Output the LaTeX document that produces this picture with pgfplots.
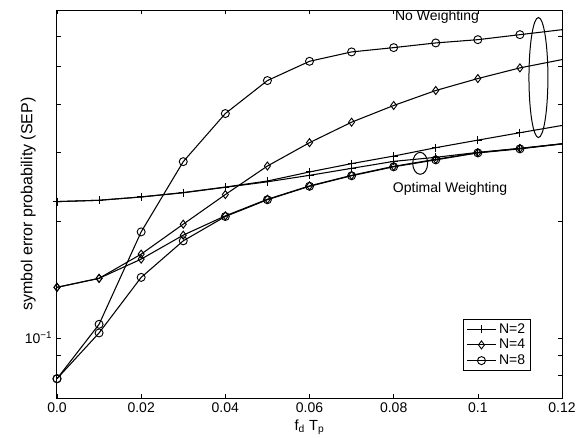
\documentclass[border=0pt]{standalone}
\usepackage{pgfplots}
\pgfplotsset{compat=1.18}
\usepackage{fontspec}
\setmainfont{Liberation Sans}
\begin{document}
\begin{tikzpicture}
\useasboundingbox (-42.75pt,-29.25pt) rectangle (390.75pt,298.5pt);
\begin{axis}[
  scale only axis, width=378.75pt, height=291pt,
  ymode=log, xmin=0, xmax=0.12, ymin=0.07, ymax=0.7,
  xtick={0,0.02,0.04,0.06,0.08,0.1,0.12},
  xticklabels={{0.0},{0.02},{0.04},{0.06},{0.08},{0.1},{0.12}},
  ytick={0.1}, yticklabels={10\textsuperscript{−1}},
  minor ytick={0.07,0.08,0.09,0.2,0.3,0.4,0.5,0.6,0.7},
  tick align=inside, major tick length=3pt, minor tick length=3pt,
  axis line style={line width=0.75pt},
  every tick/.style={black, line width=0.5pt},
  tick label style={font=\fontsize{10.5}{12}\selectfont},
  xlabel={f\textsubscript{d} T\textsubscript{p}},
  ylabel={symbol error probability (SEP)},
  xlabel style={font=\fontsize{11}{13}\selectfont, yshift=1.5pt},
  ylabel style={font=\fontsize{12}{14}\selectfont, yshift=-15pt},
  legend style={at={(0.9386,0.0696)}, anchor=south east, font=\fontsize{10.5}{12}\selectfont,
    draw=black, line width=0.75pt, inner xsep=2pt, inner ysep=1pt, row sep=-1pt},
  legend cell align=left,
  legend image code/.code={\draw[mark indices={2},#1] plot coordinates {(0cm,0cm) (0.38cm,0cm) (0.76cm,0cm)};},
  every axis plot/.append style={black, line width=0.8pt, mark options={solid, line width=0.7pt}},
]
% No weighting
\addplot[mark=+, mark size=3pt, mark indices={1,2,3,4,5,6,7,8,9,10,11,12}] coordinates {
(0,0.2245) (0.01,0.2263) (0.02,0.2308) (0.03,0.2369) (0.04,0.2448) (0.05,0.2537) (0.06,0.2677) (0.07,0.2813) (0.08,0.2942) (0.09,0.3092) (0.10,0.3234) (0.11,0.3379) (0.12,0.3528)};
\addlegendentry{N=2}
\addplot[mark=diamond, mark size=3pt, mark indices={1,2,3,4,5,6,7,8,9,10,11,12}] coordinates {
(0,0.1350) (0.01,0.1424) (0.02,0.1644) (0.03,0.1964) (0.04,0.2341) (0.05,0.2773) (0.06,0.3185) (0.07,0.3597) (0.08,0.3972) (0.09,0.4341) (0.10,0.4660) (0.11,0.4965) (0.12,0.5215)};
\addlegendentry{N=4}
\addplot[mark=o, mark size=3pt, mark indices={1,2,3,4,5,6,7,8,9,10,11,12}] coordinates {
(0,0.0785) (0.01,0.1084) (0.02,0.1876) (0.03,0.2846) (0.04,0.3787) (0.05,0.4605) (0.06,0.5163) (0.07,0.5458) (0.08,0.5599) (0.09,0.5757) (0.10,0.5870) (0.11,0.6047) (0.12,0.6228)};
\addlegendentry{N=8}
% Optimal weighting
\addplot[forget plot, mark=+, mark size=3pt, mark indices={1,2,3,4,5,6,7,8,9,10,11,12}] coordinates {
(0,0.2245) (0.01,0.2263) (0.02,0.2308) (0.03,0.2366) (0.04,0.2444) (0.05,0.2525) (0.06,0.2624) (0.07,0.2735) (0.08,0.2851) (0.09,0.2920) (0.10,0.3007) (0.11,0.3079) (0.12,0.3162)};
\addplot[forget plot, mark=diamond, mark size=3pt, mark indices={1,2,3,4,5,6,7,8,9,10,11,12}] coordinates {
(0,0.1350) (0.01,0.1424) (0.02,0.1596) (0.03,0.1840) (0.04,0.2063) (0.05,0.2277) (0.06,0.2464) (0.07,0.2624) (0.08,0.2768) (0.09,0.2886) (0.10,0.3002) (0.11,0.3079) (0.12,0.3166)};
\addplot[forget plot, mark=o, mark size=3pt, mark indices={1,2,3,4,5,6,7,8,9,10,11,12}] coordinates {
(0,0.0785) (0.01,0.1030) (0.02,0.1432) (0.03,0.1779) (0.04,0.2055) (0.05,0.2270) (0.06,0.2459) (0.07,0.2617) (0.08,0.2760) (0.09,0.2876) (0.10,0.2998) (0.11,0.3070) (0.12,0.3162)};
% annotations
\node[font=\fontsize{10.5}{12}\selectfont] at (axis cs:0.0903,0.673) {No Weighting};
\node[font=\fontsize{10.5}{12}\selectfont] at (axis cs:0.0934,0.2415) {Optimal Weighting};
\draw[line width=0.75pt] (axis cs:0.1144,0.4688) ellipse [x radius=7.1pt, y radius=45pt];
\draw[line width=0.75pt] (axis cs:0.0863,0.2818) ellipse [x radius=5.6pt, y radius=8.25pt];
\end{axis}
\end{tikzpicture}
\end{document}
